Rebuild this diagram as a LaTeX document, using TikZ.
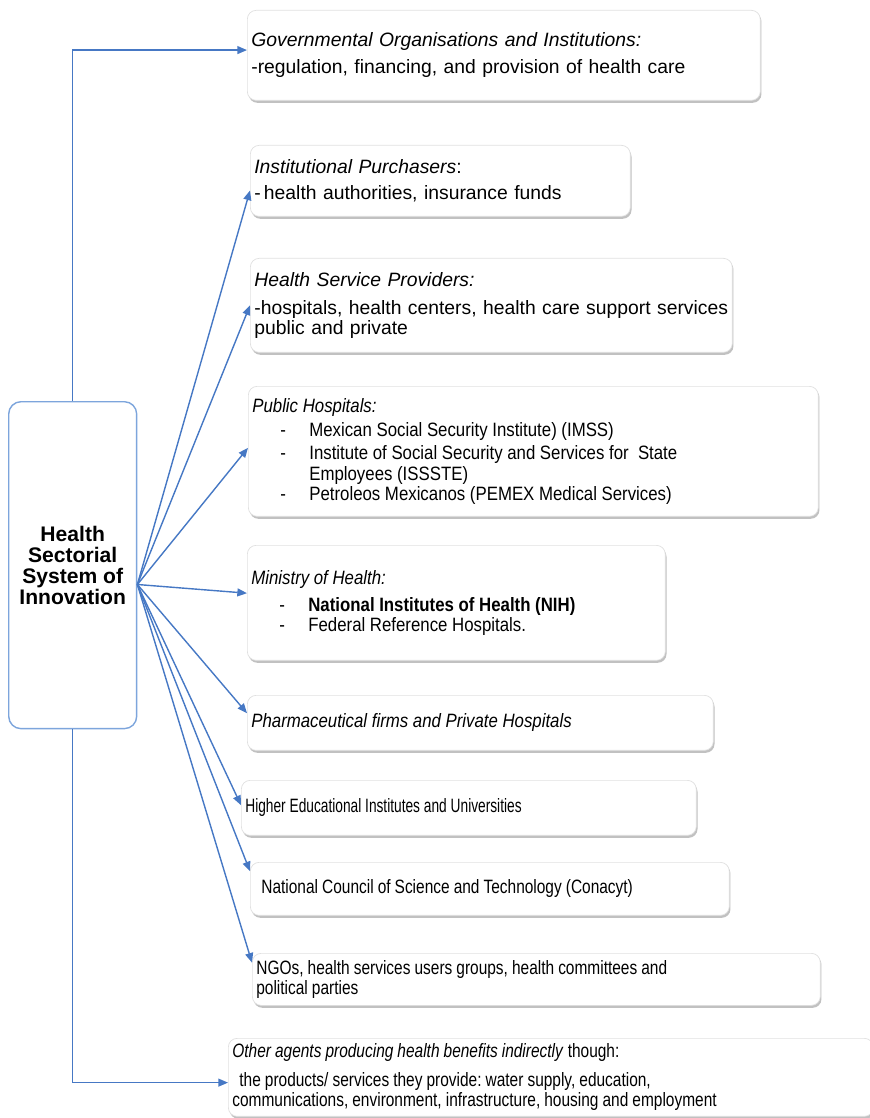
\documentclass[tikz,border=0pt]{standalone}
\usepackage{fontspec}
\setmainfont{Liberation Sans}
\newfontfamily\fontA[FakeStretch=0.87]{Liberation Sans}
\newfontfamily\fontB[FakeStretch=0.80]{Liberation Sans}
\newfontfamily\fontC[FakeStretch=0.71]{Liberation Sans}
\newcommand{\narrowA}{\fontA\frenchspacing\spaceskip=0.24em\relax}
\newcommand{\narrowB}{\fontB\frenchspacing\spaceskip=0.21em\relax}
\newcommand{\narrowC}{\fontC\frenchspacing\spaceskip=0.20em\relax}
\usetikzlibrary{arrows.meta, shadows}
\definecolor{linkblue}{RGB}{70,120,196}
\definecolor{coreblue}{RGB}{125,165,220}
\newcommand{\dashitem}[1]{\hspace*{0.56cm}\makebox[0.58cm][l]{-}#1}

\begin{document}
\begin{tikzpicture}[
  x=0.02cm, y=-0.02cm,
  font=\fontsize{11}{11.5}\selectfont,
  agent/.style={draw=black!12, fill=white, rounded corners=5pt, line width=0.4pt,
                drop shadow={shadow xshift=0.7pt, shadow yshift=-1.4pt,
                             opacity=0.35, fill=black!70},
                anchor=north west, align=left, inner xsep=0.08cm, inner ysep=2pt},
  core/.style={draw=coreblue, fill=white, rounded corners=7pt, line width=0.8pt,
               minimum width=2.56cm, minimum height=6.54cm, anchor=north west,
               align=center, font=\fontsize{12}{12}\selectfont\bfseries},
  link/.style={draw=linkblue, line width=0.8pt,
               -{Triangle[length=5.5pt,width=4.5pt]}}
]
\useasboundingbox (0,0) rectangle (869,1118);

%--------------------------------------------------------------
% Sistema centrale
%--------------------------------------------------------------
\node[core] (hssi) at (8,401) {Health\\ Sectorial\\ System of\\ Innovation};
\coordinate (hub) at ([yshift=-11pt]hssi.east);

%--------------------------------------------------------------
% Agenti
%--------------------------------------------------------------
\node[agent, text width=10.1cm, minimum height=1.8cm] (gov) at (247,10)
  {\textit{Governmental Organisations and Institutions:}\\[4pt]
   -regulation, financing, and provision of health care};

\node[agent, text width=7.44cm, minimum height=1.42cm] (purch) at (250,145)
  {\textit{Institutional Purchasers}:\\[3pt]
   -\,health authorities, insurance funds};

\node[agent, text width=9.48cm, minimum height=1.88cm] (prov) at (250,258)
  {\textit{Health Service Providers:}\\[4.5pt]
   -hospitals, health centers, health care support services\\
   public and private};

\node[agent, text width=11.24cm, minimum height=2.6cm] (pubhosp) at (248,386)
  {\narrowA\textit{Public Hospitals:}\\[2pt]
   \dashitem{Mexican Social Security Institute) (IMSS)}\\[2pt]
   \dashitem{Institute of Social Security and Services for\ \ State}\\
   \hspace*{1.14cm}Employees (ISSSTE)\\
   \dashitem{Petroleos Mexicanos (PEMEX Medical Services)}};

\node[agent, text width=8.2cm, minimum height=2.3cm] (minist) at (247,545)
  {\narrowA\textit{Ministry of Health:}\\[4pt]
   \dashitem{\textbf{National Institutes of Health (NIH)}}\\
   \dashitem{Federal Reference Hospitals.}};

\node[agent, text width=9.16cm, minimum height=1.1cm] (pharma) at (247,695)
  {\narrowA\textit{Pharmaceutical firms and Private Hospitals}};

\node[agent, text width=8.94cm, minimum height=1.1cm] (higher) at (241,780)
  {\narrowC Higher Educational Institutes and Universities};

\node[agent, text width=9.42cm, minimum height=1.06cm] (conacyt) at (250,862)
  {\narrowB\hspace*{4pt}National Council of Science and Technology (Conacyt)};

\node[agent, text width=11.2cm, minimum height=1.04cm] (ngo) at (252,953)
  {\narrowB NGOs, health services users groups, health committees and\\
   political parties};

\node[agent, text width=12.74cm, minimum height=1.56cm] (other) at (228,1038)
  {\narrowB\textit{Other agents producing health benefits indirectly} though:\\[5pt]
   \hspace*{4pt}the products/ services they provide: water supply, education,\\
   communications, environment, infrastructure, housing and employment};

%--------------------------------------------------------------
% Collegamenti
%--------------------------------------------------------------
\draw[link] (hssi.north) |- ([yshift=3pt]gov.west);
\draw[link] (hssi.south) |- ([yshift=-3pt]other.west);

\foreach \ziel/\dy in {purch/-5.5pt, prov/0pt, pubhosp/2pt, minist/5.5pt,
                       pharma/5.5pt, higher/1.5pt, conacyt/10pt, ngo/9.5pt}
  \draw[link] (hub) -- ([yshift=\dy]\ziel.west);

\end{tikzpicture}
\end{document}
